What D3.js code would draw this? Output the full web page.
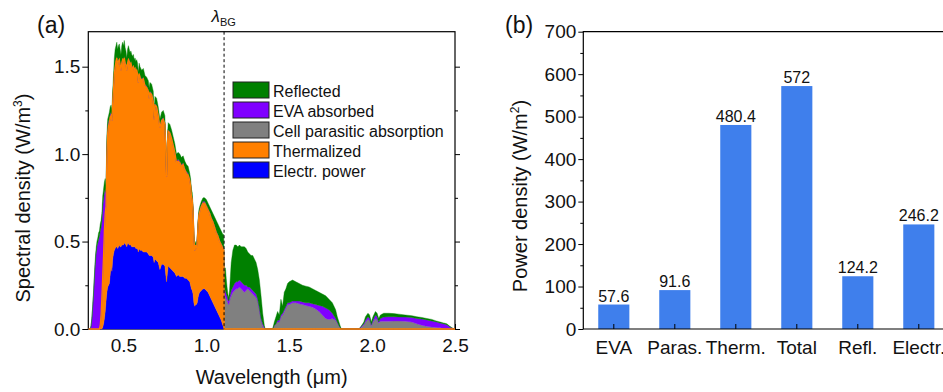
<!DOCTYPE html>
<html>
<head>
<meta charset="utf-8">
<script src="https://cdn.jsdelivr.net/npm/d3@7"></script>
<style>
  html, body { margin: 0; padding: 0; background: #fff; }
  svg { display: block; font-family: "Liberation Sans", Arial, Helvetica, sans-serif; }
</style>
</head>
<body>
<svg id="chart" width="943" height="392"></svg>
<script>
// ---- (a) spectral loss breakdown, W/m^3 per component ----
const wavelength = [
  0.290,0.300,0.305,0.310,0.315,0.320,0.325,0.330,0.335,0.340,
  0.345,0.350,0.355,0.360,0.365,0.370,0.375,0.380,0.385,0.390,
  0.395,0.400,0.405,0.410,0.415,0.420,0.425,0.430,0.435,0.440,
  0.445,0.450,0.455,0.460,0.465,0.470,0.475,0.480,0.485,0.490,
  0.495,0.500,0.505,0.510,0.515,0.520,0.525,0.530,0.535,0.540,
  0.545,0.550,0.555,0.560,0.565,0.570,0.575,0.580,0.585,0.590,
  0.595,0.600,0.610,0.620,0.630,0.640,0.650,0.655,0.660,0.670,
  0.680,0.685,0.690,0.700,0.710,0.720,0.730,0.740,0.750,0.760,
  0.765,0.770,0.780,0.790,0.800,0.810,0.820,0.830,0.840,0.850,
  0.860,0.870,0.880,0.890,0.900,0.905,0.910,0.915,0.920,0.925,
  0.930,0.935,0.940,0.945,0.950,0.955,0.960,0.970,0.980,0.990,
  1.000,1.010,1.020,1.030,1.040,1.050,1.060,1.070,1.080,1.090,
  1.100,1.105,1.108,1.115,1.120,1.125,1.130,1.135,1.140,1.145,
  1.150,1.160,1.170,1.180,1.190,1.200,1.210,1.220,1.230,1.240,
  1.250,1.260,1.270,1.280,1.290,1.300,1.310,1.320,1.330,1.340,
  1.350,1.355,1.400,1.405,1.410,1.420,1.430,1.440,1.450,1.460,
  1.470,1.480,1.490,1.500,1.520,1.540,1.560,1.580,1.600,1.620,
  1.640,1.660,1.680,1.700,1.720,1.740,1.760,1.780,1.790,1.800,
  1.810,1.815,1.920,1.930,1.950,1.960,1.975,1.985,1.995,2.005,
  2.020,2.030,2.040,2.050,2.070,2.100,2.130,2.160,2.200,2.240,
  2.270,2.300,2.330,2.360,2.390,2.410,2.430,2.450,2.470,2.485,
  2.500
];

const electrPower = [
  0,0,0,0,0,0,0,0,0,0,
  0,0,0,0,0,0,0.01,0.03,0.06,0.10,
  0.16,0.21,0.24,0.25,0.26,0.31,0.36,0.33,0.40,0.43,
  0.45,0.46,0.47,0.47,0.46,0.47,0.48,0.47,0.47,0.48,
  0.48,0.48,0.49,0.49,0.48,0.47,0.49,0.49,0.48,0.48,
  0.48,0.47,0.47,0.47,0.47,0.47,0.46,0.46,0.46,0.44,
  0.46,0.45,0.45,0.44,0.44,0.44,0.43,0.42,0.42,0.42,
  0.41,0.38,0.40,0.39,0.38,0.34,0.37,0.37,0.36,0.27,
  0.32,0.36,0.35,0.34,0.33,0.32,0.30,0.31,0.30,0.30,
  0.30,0.29,0.29,0.28,0.27,0.25,0.23,0.22,0.20,0.15,
  0.13,0.14,0.14,0.15,0.18,0.20,0.21,0.22,0.23,0.23,
  0.22,0.21,0.19,0.17,0.15,0.13,0.11,0.09,0.07,0.05,
  0.02,0.01,0,0,0,0,0,0,0,0,
  0,0,0,0,0,0,0,0,0,0,
  0,0,0,0,0,0,0,0,0,0,
  0,0,0,0,0,0,0,0,0,0,
  0,0,0,0,0,0,0,0,0,0,
  0,0,0,0,0,0,0,0,0,0,
  0,0,0,0,0,0,0,0,0,0,
  0,0,0,0,0,0,0,0,0,0,
  0,0,0,0,0,0,0,0,0,0,
  0
];

const thermalized = [
  0,0,0,0,0,0,0,0,0,0,
  0,0,0,0.02,0.08,0.18,0.29,0.39,0.50,0.56,
  0.54,0.77,0.88,0.91,0.92,0.90,0.86,0.86,0.89,0.94,
  1.01,1.04,1.06,1.08,1.05,1.06,1.06,1.04,1.01,1.04,
  1.06,1.05,1.06,1.03,1.03,1.01,1.03,1.05,1.05,1.03,
  1.04,1.03,1.02,1.03,1.01,1.02,1.01,1.02,1.00,0.97,
  1.00,0.99,0.97,0.99,0.95,0.94,0.93,0.90,0.93,0.92,
  0.89,0.82,0.88,0.88,0.84,0.81,0.82,0.83,0.81,0.60,
  0.74,0.77,0.77,0.75,0.72,0.69,0.65,0.65,0.65,0.63,
  0.64,0.62,0.60,0.60,0.58,0.57,0.53,0.52,0.47,0.37,
  0.32,0.34,0.32,0.35,0.41,0.45,0.46,0.48,0.49,0.49,
  0.48,0.47,0.47,0.46,0.46,0.45,0.44,0.44,0.43,0.43,
  0.44,0.44,0,0,0,0,0,0,0,0,
  0,0,0,0,0,0,0,0,0,0,
  0,0,0,0,0,0,0,0,0,0,
  0,0,0,0,0,0,0,0,0,0,
  0,0,0,0,0,0,0,0,0,0,
  0,0,0,0,0,0,0,0,0,0,
  0,0,0,0,0,0,0,0,0,0,
  0,0,0,0,0,0,0,0,0,0,
  0,0,0,0,0,0,0,0,0,0,
  0
];

const cellParasitic = [
  0,0,0,0,0,0,0,0,0,0,
  0,0,0,0,0,0,0,0,0,0,
  0,0,0,0,0,0,0,0,0,0,
  0,0,0,0,0,0,0,0,0,0,
  0,0,0,0,0,0,0,0,0,0,
  0,0,0,0,0,0,0,0,0,0,
  0,0,0,0,0,0,0,0,0,0,
  0,0,0,0,0,0,0,0,0,0,
  0,0,0,0,0,0,0,0,0,0,
  0,0,0,0,0,0,0,0,0,0,
  0,0,0,0,0,0,0,0,0,0,
  0,0,0,0,0,0,0,0,0,0,
  0,0,0.18,0.19,0.17,0.17,0.15,0.14,0.16,0.18,
  0.19,0.21,0.22,0.23,0.23,0.24,0.23,0.22,0.21,0.22,
  0.23,0.22,0.21,0.20,0.19,0.18,0.16,0.11,0.05,0.02,
  0,0,0,0.01,0.02,0.03,0.04,0.04,0.07,0.08,
  0.10,0.12,0.14,0.14,0.15,0.15,0.145,0.14,0.135,0.13,
  0.125,0.115,0.10,0.08,0.06,0.055,0.06,0.05,0.035,0.02,
  0.005,0,0,0.005,0.025,0.04,0.055,0.05,0.02,0.04,
  0.06,0.055,0.035,0.045,0.045,0.045,0.046,0.046,0.045,0.04,
  0.03,0.022,0.016,0.012,0.009,0.007,0.005,0.003,0.001,0,
  0
];

const evaAbsorbed = [
  0,0,0.02,0.06,0.13,0.20,0.29,0.37,0.43,0.47,
  0.49,0.51,0.53,0.54,0.50,0.44,0.40,0.32,0.22,0.14,
  0.08,0.07,0.04,0.03,0.02,0.02,0.02,0.02,0.02,0.02,
  0.01,0.01,0.01,0.01,0.01,0.01,0.01,0.01,0.01,0.01,
  0.01,0.01,0.01,0.01,0.01,0.01,0.01,0.01,0.01,0.01,
  0.01,0.01,0.01,0.01,0.01,0.01,0.01,0.01,0.01,0.01,
  0.01,0.01,0.01,0.01,0.01,0.01,0.01,0.01,0.01,0.01,
  0.01,0.01,0.01,0.01,0.01,0.01,0.01,0.01,0.01,0.01,
  0.01,0.01,0.01,0.01,0.01,0.01,0.01,0.01,0.01,0.01,
  0.01,0.01,0.01,0.01,0.01,0.01,0.01,0.01,0.01,0.01,
  0.01,0.01,0.01,0.01,0.01,0.01,0.01,0.01,0.01,0.01,
  0.01,0.01,0.01,0.01,0.01,0.01,0.01,0.01,0.01,0.01,
  0.01,0.01,0.04,0.03,0.03,0.02,0.02,0.02,0.02,0.02,
  0.03,0.03,0.04,0.04,0.04,0.04,0.04,0.04,0.04,0.03,
  0.01,0.02,0.02,0.02,0.02,0.02,0.01,0.01,0.01,0.01,
  0.01,0,0,0,0,0,0.01,0.01,0.01,0.01,
  0.01,0.01,0.01,0.01,0.01,0.01,0.015,0.015,0.015,0.02,
  0.02,0.025,0.035,0.05,0.06,0.055,0.03,0.01,0.005,0,
  0,0,0,0.005,0.005,0.01,0.015,0.01,0.005,0.01,
  0.02,0.015,0.005,0.015,0.023,0.025,0.024,0.023,0.023,0.026,
  0.03,0.035,0.036,0.034,0.031,0.027,0.025,0.022,0.011,0.004,
  0
];

const reflected = [
  0,0,0,0.01,0.01,0.02,0.02,0.03,0.03,0.03,
  0.03,0.04,0.03,0.04,0.04,0.04,0.06,0.06,0.06,0.06,
  0.04,0.05,0.04,0.03,0.04,0.04,0.04,0.04,0.05,0.06,
  0.08,0.09,0.08,0.08,0.08,0.08,0.08,0.08,0.08,0.09,
  0.09,0.08,0.09,0.08,0.07,0.06,0.07,0.07,0.06,0.06,
  0.06,0.06,0.06,0.06,0.05,0.05,0.05,0.05,0.05,0.05,
  0.05,0.05,0.05,0.05,0.05,0.05,0.05,0.05,0.05,0.05,
  0.05,0.04,0.04,0.04,0.04,0.04,0.04,0.04,0.04,0.02,
  0.03,0.04,0.04,0.04,0.04,0.04,0.04,0.04,0.04,0.04,
  0.04,0.04,0.04,0.04,0.03,0.03,0.03,0.03,0.02,0.02,
  0.01,0.01,0.01,0.01,0.02,0.02,0.02,0.02,0.02,0.02,
  0.03,0.03,0.03,0.04,0.04,0.05,0.06,0.06,0.07,0.07,
  0.07,0.08,0.08,0.13,0.09,0.05,0.03,0.02,0.04,0.10,
  0.16,0.21,0.22,0.21,0.20,0.20,0.20,0.21,0.22,0.21,
  0.20,0.19,0.19,0.20,0.19,0.18,0.17,0.16,0.13,0.06,
  0.01,0,0,0.01,0.02,0.04,0.05,0.03,0.09,0.04,
  0.10,0.10,0.11,0.12,0.12,0.11,0.10,0.095,0.095,0.09,
  0.085,0.08,0.075,0.07,0.07,0.06,0.06,0.05,0.03,0.02,
  0.005,0,0,0,0.01,0.02,0.02,0.02,0.015,0.02,
  0.02,0.02,0.02,0.02,0.022,0.02,0.018,0.016,0.012,0.01,
  0.01,0.009,0.008,0.009,0.005,0.006,0.005,0.005,0.003,0.001,
  0
];

const bandgapWavelength = 1.107;
const spectrumTicks = [0.5, 1.0, 1.5, 2.0, 2.5];
const densityTicks = [0, 0.5, 1.0, 1.5];

// Stack order from bottom to top
const layerKeys   = ["electr", "therm", "paras", "eva", "refl"];
const layerNames  = ["Electr. power", "Thermalized", "Cell parasitic absorption", "EVA absorbed", "Reflected"];
const layerColors = ["#0000ff", "#ff8000", "#808080", "#8000ff", "#008000"];

// ---- (b) integrated power density, W/m^2 ----
const lossCategories = ["EVA", "Paras.", "Therm.", "Total", "Refl.", "Electr."];
const lossValues     = [57.6, 91.6, 480.4, 572, 124.2, 246.2];
const powerTicks     = [0, 100, 200, 300, 400, 500, 600, 700];

const svg = d3.select("#chart");
const tickFont = 19, titleFont = 20;

// ================= panel (a) =================
const A = { left: 88.3, right: 455, top: 31.7, bottom: 329 };
const x = d3.scaleLinear().domain([0.288, 2.5]).range([A.left, A.right]);
const y = d3.scaleLinear().domain([0, 1.7]).range([A.bottom, A.top]);

const rows = wavelength.map((w, i) => ({
  w,
  electr: electrPower[i],
  therm: thermalized[i],
  paras: cellParasitic[i],
  eva: evaAbsorbed[i],
  refl: reflected[i]
}));
const stacked = d3.stack().keys(layerKeys)(rows);

const gA = svg.append("g");

// y axis ticks (left, outward) and mirrored right ticks
const yAxisL = d3.axisLeft(y).tickValues(densityTicks).tickFormat(d3.format(".1f")).tickSize(6).tickPadding(2);
const yMinorL = d3.axisLeft(y).tickValues([0.25, 0.75, 1.25]).tickFormat("").tickSize(3);
const yAxisR = d3.axisRight(y).tickValues(densityTicks).tickFormat("").tickSize(5);
const yMinorR = d3.axisRight(y).tickValues([0.25, 0.75, 1.25]).tickFormat("").tickSize(3);
const xAxisB = d3.axisBottom(x).tickValues(spectrumTicks).tickFormat(d3.format(".1f")).tickSize(-5).tickPadding(10);

function styleAxis(g) {
  g.select(".domain").remove();
  g.selectAll("line").attr("stroke", "#000").attr("stroke-width", 1);
  g.selectAll("text").attr("fill", "#111").style("font-size", tickFont + "px")
    .style("font-family", "'Liberation Sans', Arial, sans-serif");
}

gA.append("g").attr("transform", `translate(${A.left},0)`).call(yAxisL).call(styleAxis);
gA.append("g").attr("transform", `translate(${A.left},0)`).call(yMinorL).call(styleAxis);
gA.append("g").attr("transform", `translate(${A.right},0)`).call(yAxisR).call(styleAxis);
gA.append("g").attr("transform", `translate(${A.right},0)`).call(yMinorR).call(styleAxis);
gA.append("g").attr("transform", `translate(0,${A.bottom})`).call(xAxisB).call(styleAxis)
  .selectAll("text").attr("dy", "0.71em");

// frame
gA.append("rect")
  .attr("x", A.left).attr("y", A.top)
  .attr("width", A.right - A.left).attr("height", A.bottom - A.top)
  .attr("fill", "none").attr("stroke", "#000").attr("stroke-width", 1.2);

// stacked areas
const area = d3.area()
  .x(d => x(d.data.w))
  .y0(d => y(d[0]))
  .y1(d => y(d[1]));

gA.append("g").selectAll("path")
  .data(stacked)
  .join("path")
  .attr("d", area)
  .attr("fill", (d, i) => layerColors[i])
  .attr("stroke", (d, i) => layerColors[i])
  .attr("stroke-width", 0.4);

// thermalized boundary line
gA.append("path")
  .datum(stacked[1])
  .attr("d", d3.line().x(d => x(d.data.w)).y(d => y(d[1])))
  .attr("fill", "none")
  .attr("stroke", "#ff8000")
  .attr("stroke-width", 1.3);

// bandgap marker
gA.append("line")
  .attr("x1", x(bandgapWavelength)).attr("x2", x(bandgapWavelength))
  .attr("y1", A.top).attr("y2", A.bottom)
  .attr("stroke", "#000").attr("stroke-width", 1)
  .attr("stroke-dasharray", "3,2.5");

const lam = gA.append("text")
  .attr("x", x(bandgapWavelength) - 12.5).attr("y", 22)
  .attr("fill", "#111").style("font-size", "17px");
lam.append("tspan").text("λ").style("font-style", "italic");
lam.append("tspan").text("BG").attr("dy", 4).style("font-size", "11px");

// legend (top entry = top layer)
const legend = gA.append("g").attr("transform", "translate(233,82)");
const legendOrder = [4, 3, 2, 1, 0];
legendOrder.forEach((k, i) => {
  legend.append("rect")
    .attr("x", 0).attr("y", i * 20)
    .attr("width", 36).attr("height", 16)
    .attr("fill", layerColors[k])
    .attr("stroke", "#222").attr("stroke-width", 1);
  legend.append("text")
    .attr("x", 40).attr("y", i * 20 + 14.5)
    .attr("fill", "#111").style("font-size", "16px")
    .text(layerNames[k]);
});

// axis titles
gA.append("text")
  .attr("x", (A.left + A.right) / 2).attr("y", 384)
  .attr("text-anchor", "middle").attr("fill", "#111")
  .style("font-size", titleFont + "px")
  .text("Wavelength (μm)");

const yTitleA = gA.append("text")
  .attr("transform", "translate(30,198) rotate(-90)")
  .attr("text-anchor", "middle").attr("fill", "#111")
  .style("font-size", titleFont + "px");
yTitleA.append("tspan").text("Spectral density (W/m");
yTitleA.append("tspan").text("3").attr("dy", -8).style("font-size", "12px");
yTitleA.append("tspan").text(")").attr("dy", 8);

gA.append("text").attr("x", 37).attr("y", 33)
  .attr("fill", "#111").style("font-size", "23px").text("(a)");

// ================= panel (b) =================
const B = { left: 583.3, right: 949.3, top: 31.7, bottom: 329 };
const xb = d3.scaleBand().domain(lossCategories).range([B.left, B.right])
  .paddingInner(0.49).paddingOuter(0.245);
const yb = d3.scaleLinear().domain([0, 700]).range([B.bottom, B.top]);

const gB = svg.append("g");

gB.append("g").attr("transform", `translate(${B.left},0)`)
  .call(d3.axisLeft(yb).tickValues(powerTicks).tickSize(5).tickPadding(2))
  .call(styleAxis);
gB.append("g").attr("transform", `translate(${B.left},0)`)
  .call(d3.axisLeft(yb).tickValues(d3.range(50, 700, 100)).tickFormat("").tickSize(3))
  .call(styleAxis);

const barData = lossCategories.map((c, i) => ({ c, v: lossValues[i] }));

gB.append("g").selectAll("rect")
  .data(barData)
  .join("rect")
  .attr("x", d => xb(d.c))
  .attr("y", d => yb(d.v))
  .attr("width", xb.bandwidth())
  .attr("height", d => yb(0) - yb(d.v))
  .attr("fill", "#3f7fec");

gB.append("g").selectAll("text")
  .data(barData)
  .join("text")
  .attr("x", d => xb(d.c) + xb.bandwidth() / 2)
  .attr("y", d => yb(d.v) - 3)
  .attr("text-anchor", "middle")
  .attr("fill", "#111")
  .style("font-size", "16px")
  .text(d => String(d.v));

// x axis: inward ticks at bar centres
gB.append("g").attr("transform", `translate(0,${B.bottom})`)
  .call(d3.axisBottom(xb).tickSize(-5).tickPadding(12))
  .call(styleAxis)
  .selectAll("text").attr("dy", "0.71em");

// frame (left, top, bottom)
gB.append("path")
  .attr("d", `M${B.right},${B.top}H${B.left}V${B.bottom}H${B.right}`)
  .attr("fill", "none").attr("stroke", "#000").attr("stroke-width", 1.2);

const yTitleB = gB.append("text")
  .attr("transform", "translate(527,196) rotate(-90)")
  .attr("text-anchor", "middle").attr("fill", "#111")
  .style("font-size", titleFont + "px");
yTitleB.append("tspan").text("Power density (W/m");
yTitleB.append("tspan").text("2").attr("dy", -8).style("font-size", "12px");
yTitleB.append("tspan").text(")").attr("dy", 8);

gB.append("text").attr("x", 505).attr("y", 33)
  .attr("fill", "#111").style("font-size", "23px").text("(b)");
</script>
</body>
</html>
